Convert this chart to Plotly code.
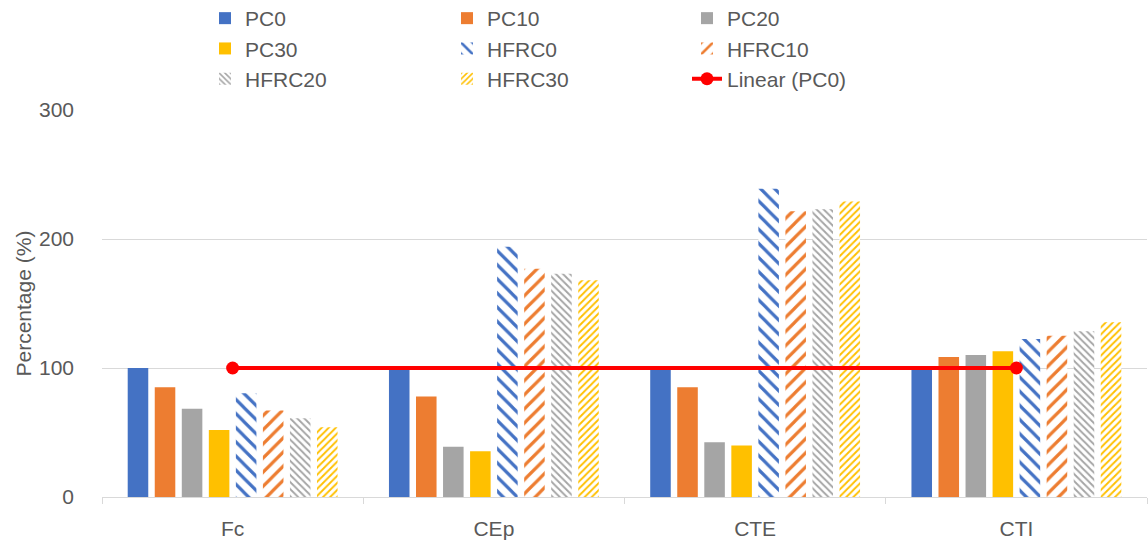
import numpy as np
import plotly.graph_objects as go

# Categories and series values (%)
categories = ["Fc", "CEp", "CTE", "CTI"]
pc0 = [100, 100, 100, 100]
pc10 = [85, 78, 85, 108.5]
pc20 = [68.5, 39, 42.5, 110]
pc30 = [52, 35.5, 40, 113]
hfrc0 = [80.5, 194, 239, 122.5]
hfrc10 = [67, 177, 221.5, 125]
hfrc20 = [61, 173, 223, 128.5]
hfrc30 = [54, 168, 229, 135.5]
y_ticks = [0, 100, 200, 300]

BLUE, ORANGE, GRAY, GOLD = "#4472C4", "#ED7D31", "#A5A5A5", "#FFC000"
TEXT = "#595959"
GRID = "#D9D9D9"
FONT = "Liberation Sans, Arial, sans-serif"

W, H = 1148, 545
ML, MR, MT, MB = 102, 1, 110, 48
PLOT_H = H - MT - MB

fig = go.Figure()


def solid(name, values, color, legend):
    fig.add_trace(go.Bar(
        name=name, x=categories, y=values, marker_color=color,
        marker_line_width=0, legend=legend))


def hatched(name, values, color, shape, size, solidity, legend):
    fig.add_trace(go.Bar(
        name=name, x=categories, y=values,
        marker=dict(color=color, line_width=0,
                    pattern=dict(shape=shape, size=size, solidity=solidity,
                                 fgcolor=color, fgopacity=1, bgcolor="white")),
        legend=legend))


solid("PC0", pc0, BLUE, "legend")
solid("PC10", pc10, ORANGE, "legend2")
solid("PC20", pc20, GRAY, "legend3")
solid("PC30", pc30, GOLD, "legend")
hatched("HFRC0", hfrc0, BLUE, "\\", 10, 0.32, "legend2")
hatched("HFRC10", hfrc10, ORANGE, "/", 10, 0.32, "legend3")
hatched("HFRC20", hfrc20, GRAY, "\\", 5, 0.38, "legend")
hatched("HFRC30", hfrc30, GOLD, "/", 5, 0.38, "legend2")

# Linear trendline fitted to the PC0 series, drawn between first and last category
idx = np.arange(len(categories))
slope, intercept = np.polyfit(idx, pc0, 1)
trend_x = [categories[0], categories[-1]]
trend_y = [intercept + slope * idx[0], intercept + slope * idx[-1]]
fig.add_trace(go.Scatter(
    name="Linear (PC0)", x=trend_x, y=trend_y, mode="lines+markers",
    line=dict(color="#FF0000", width=4),
    marker=dict(color="#FF0000", size=13), legend="legend3"))


def legend_at(x_px, y_px):
    # pixel position from the top-left corner of the page -> paper coords
    return dict(
        x=(x_px - ML) / (W - ML - MR), y=(H - MB - y_px) / PLOT_H,
        xref="paper", yref="paper",
        xanchor="left", yanchor="top", orientation="v",
        font=dict(family=FONT, size=21, color=TEXT),
        bgcolor="rgba(0,0,0,0)", borderwidth=0, traceorder="normal",
        itemclick=False, itemdoubleclick=False)


fig.update_layout(
    width=W, height=H,
    margin=dict(l=ML, r=MR, t=MT, b=MB, autoexpand=False),
    paper_bgcolor="white", plot_bgcolor="white",
    barmode="group", bargap=0.172, bargroupgap=0.24,
    font=dict(family=FONT, size=21, color=TEXT),
    showlegend=True,
    legend=legend_at(205, -2),
    legend2=legend_at(447, -2),
    legend3=legend_at(687, -2),
    xaxis=dict(
        type="category", showline=True, linecolor=GRID, linewidth=1,
        ticks="outside", tickson="boundaries", ticklen=6, tickcolor=GRID,
        showgrid=False, ticklabelstandoff=13, tickangle=0, automargin=False,
        tickfont=dict(family=FONT, size=21, color=TEXT)),
    yaxis=dict(
        range=[0, 300], tickvals=y_ticks, showgrid=True, gridcolor=GRID,
        gridwidth=1, zeroline=False, showline=False, ticks="",
        ticklabelstandoff=27, automargin=False,
        tickfont=dict(family=FONT, size=21, color=TEXT)),
    annotations=[dict(
        text="Percentage (%)", textangle=-90, showarrow=False,
        xref="paper", yref="paper", x=-(ML - 23) / (W - ML - MR), y=0.5,
        xanchor="center", yanchor="middle",
        font=dict(family=FONT, size=21, color=TEXT))],
)

fig.write_html("out.html")
